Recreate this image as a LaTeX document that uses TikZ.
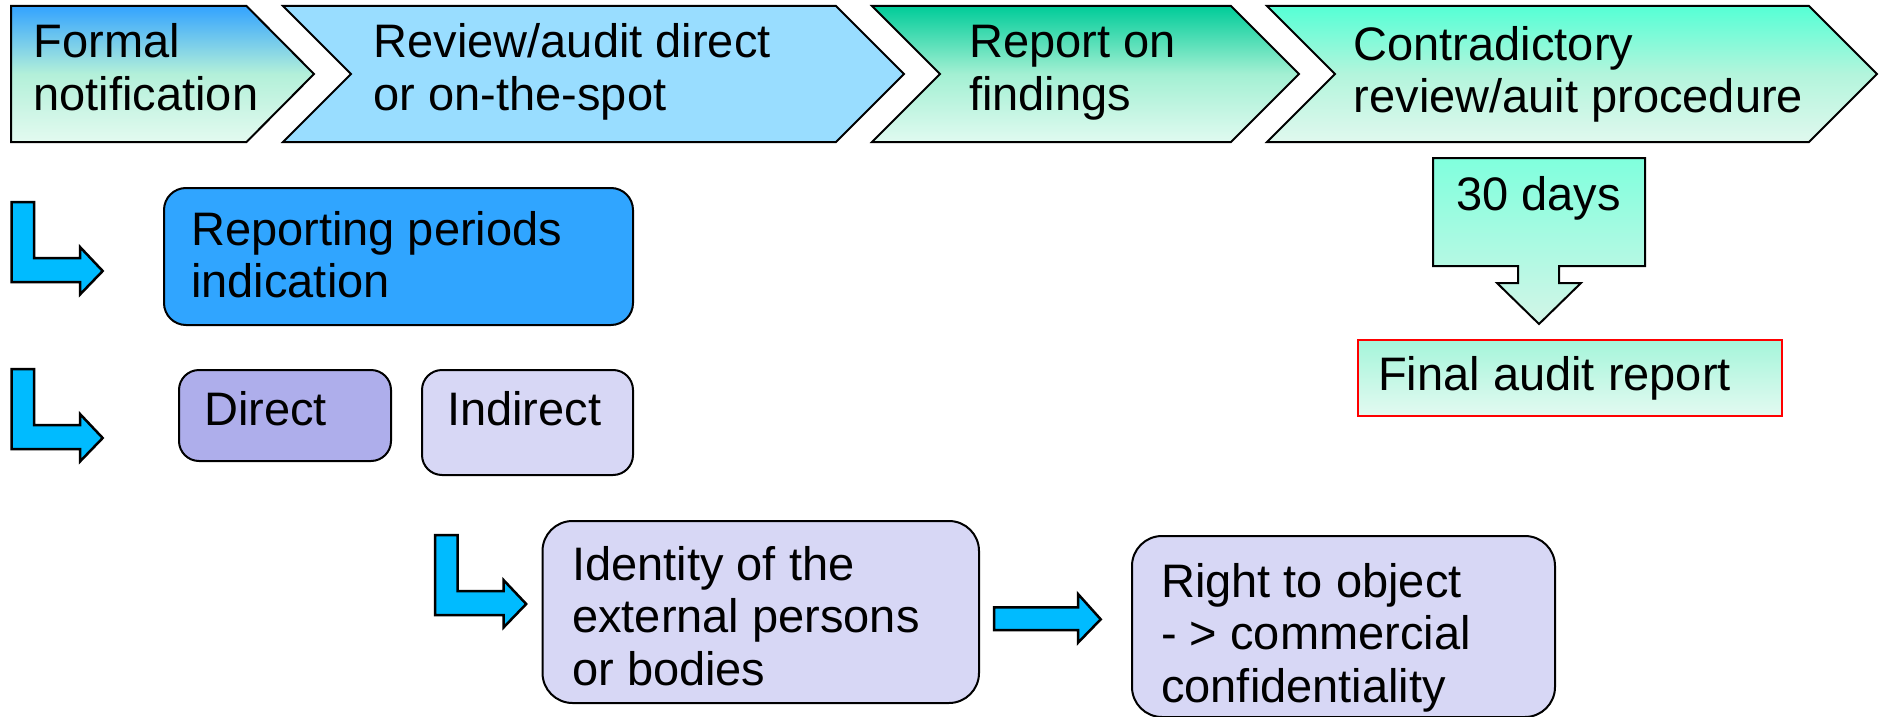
\documentclass[tikz,border=0pt]{standalone}
\usepackage{fontspec}
\setmainfont{Liberation Sans}
\usetikzlibrary{calc}

\definecolor{arrowblue}{HTML}{00BBFF}
\definecolor{onetop}{HTML}{33A3FF}
\definecolor{onemid}{HTML}{B3F0D9}
\definecolor{onebot}{HTML}{E3FAF0}
\definecolor{twofill}{HTML}{99DDFF}
\definecolor{threetop}{HTML}{00CC99}
\definecolor{threemid}{HTML}{A3F0D3}
\definecolor{threebot}{HTML}{E0FAF0}
\definecolor{fourtop}{HTML}{55FFD5}
\definecolor{fourmid}{HTML}{B3F5DC}
\definecolor{fourbot}{HTML}{E0F8EE}
\definecolor{daystop}{HTML}{80FFDD}
\definecolor{daysbot}{HTML}{D3F5E7}
\definecolor{finaltop}{HTML}{A5F5DA}
\definecolor{finalbot}{HTML}{E3FAF1}
\definecolor{reportblue}{HTML}{30A5FF}
\definecolor{directfill}{HTML}{AEAEEB}
\definecolor{lilac}{HTML}{D7D7F5}

\newcommand{\flowtext}[1]{\parbox[t]{20cm}{\raggedright #1}}

\tikzset{
  every node/.style={font=\fontsize{47}{52.5}\selectfont},
  txt/.style={anchor=base west, inner sep=0pt},
  outline/.style={draw=black, line width=2pt, line join=miter},
  roundbox/.style={outline, anchor=north west, inner sep=0pt},
  bluearrow/.style={draw=black, line width=2.5pt, fill=arrowblue, line join=miter},
  bentarrow/.pic={
    \draw[bluearrow] (0,0) -- (22.5,0) -- (22.5,56) -- (68.5,56) -- (68.5,45)
      -- (91.2,69) -- (68.5,92.5) -- (68.5,80) -- (0,80) -- cycle;
  }
}

\begin{document}
\begin{tikzpicture}[x=1pt,y=-1pt]
    \useasboundingbox (0,0) rectangle (1879,717);

    \draw[outline, top color=onetop, bottom color=onebot, middle color=onemid]
      (11,6) -- (246.5,6) -- (314,74) -- (246.5,142) -- (11,142) -- cycle;
    \draw[outline, fill=twofill]
      (283,6) -- (836,6) -- (904,74) -- (836,142) -- (283,142) -- (351,74) -- cycle;
    \draw[outline, top color=threetop, bottom color=threebot, middle color=threemid]
      (872,6) -- (1231,6) -- (1299,74) -- (1231,142) -- (872,142) -- (940,74) -- cycle;
    \draw[outline, top color=fourtop, bottom color=fourbot, middle color=fourmid]
      (1267,6) -- (1809,6) -- (1877,74) -- (1809,142) -- (1267,142) -- (1335,74) -- cycle;

    \node[txt] (formal) at (33.3,58) {\flowtext{Formal\\notification}};
    \node[txt] (review) at (373.5,58) {\flowtext{Review/audit direct\\or on-the-spot}};
    \node[txt] (findings) at (969,58) {\flowtext{Report on\\findings}};
    \node[txt] (contra) at (1353.5,60) {\flowtext{Contradictory\\review/auit procedure}};

    \draw[outline, top color=daystop, bottom color=daysbot]
      (1433,158) -- (1645,158) -- (1645,266) -- (1559,266) -- (1559,283) -- (1581,283)
      -- (1539,324) -- (1497,283) -- (1518,283) -- (1518,266) -- (1433,266) -- cycle;
    \node[txt] (days) at (1456,210) {30 days};

    \node[roundbox, draw=red, rounded corners=0pt, top color=finaltop, bottom color=finalbot,
      minimum width=424pt, minimum height=76pt] (final) at (1357,339) {};
    \node[txt] (finaltext) at ($(final.north west)+(21,51)$) {Final audit report};

    \pic (bentone) at (11.5,202) {bentarrow};
    \pic (benttwo) at (11.5,369) {bentarrow};
    \pic (bentthree) at (435,535) {bentarrow};

    \node[roundbox, fill=reportblue, rounded corners=22pt,
      minimum width=469pt, minimum height=137pt] (report) at (163,187) {};
    \node[txt] (reporttext) at ($(report.north west)+(28,58)$) {\flowtext{Reporting periods\\indication}};

    \node[roundbox, fill=directfill, rounded corners=20pt,
      minimum width=212pt, minimum height=91pt] (direct) at (178,369) {};
    \node[txt] (directtext) at ($(direct.north west)+(26,56)$) {Direct};

    \node[roundbox, fill=lilac, rounded corners=20pt,
      minimum width=211pt, minimum height=105pt] (indirect) at (421,369) {};
    \node[txt] (indirecttext) at ($(indirect.north west)+(26,56)$) {Indirect};

    \node[roundbox, fill=lilac, rounded corners=30pt,
      minimum width=436.5pt, minimum height=182pt] (identity) at (541.5,520) {};
    \node[txt] (identitytext) at ($(identity.north west)+(30.5,60)$) {\flowtext{Identity of the\\external persons\\or bodies}};

    \draw[bluearrow] (994,607.3) -- (1078,607.3) -- (1078,594) -- (1100.7,619.3)
      -- (1078,642.7) -- (1078,630) -- (994,630) -- cycle;

    \node[roundbox, fill=lilac, rounded corners=30pt,
      minimum width=423pt, minimum height=181pt] (object) at (1131,535) {};
    \node[txt] (objecttext) at ($(object.north west)+(30,62)$) {\flowtext{Right to object\\- > commercial\\confidentiality}};
\end{tikzpicture}
\end{document}
